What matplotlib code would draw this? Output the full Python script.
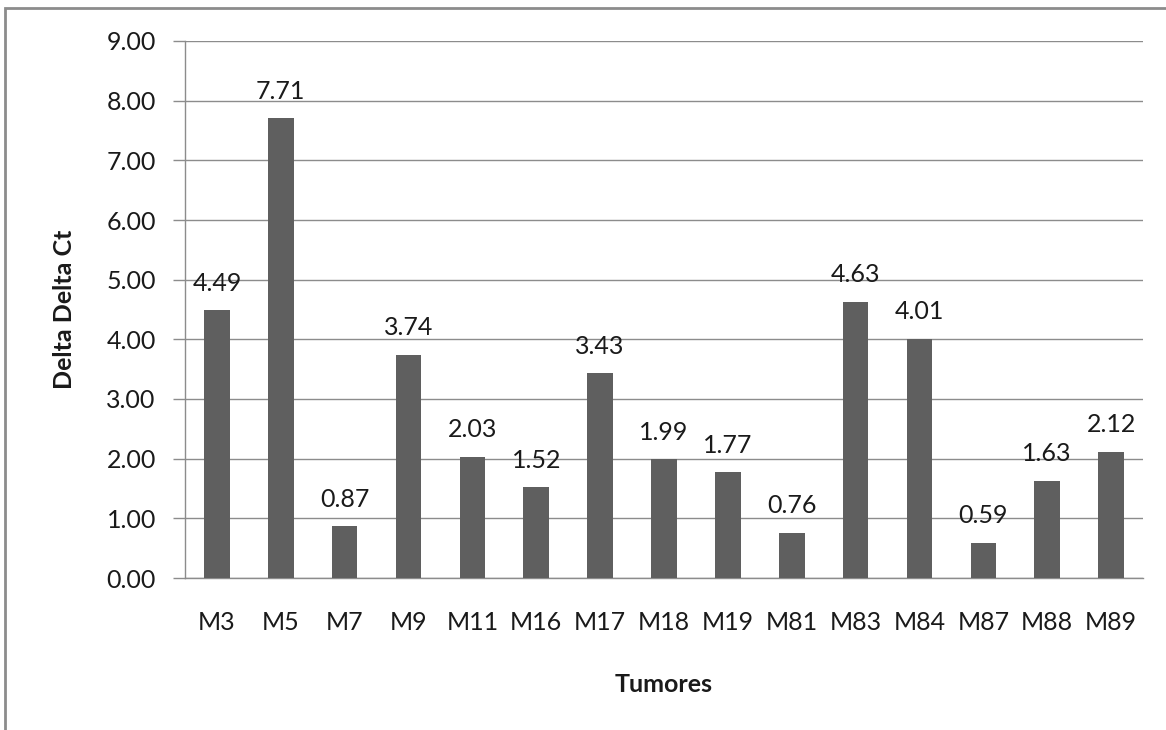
import matplotlib
matplotlib.use("Agg")
import matplotlib.pyplot as plt
from matplotlib.patches import Rectangle

categories = ["M3", "M5", "M7", "M9", "M11", "M16", "M17", "M18", "M19",
              "M81", "M83", "M84", "M87", "M88", "M89"]
values = [4.49, 7.71, 0.87, 3.74, 2.03, 1.52, 3.43, 1.99, 1.77,
          0.76, 4.63, 4.01, 0.59, 1.63, 2.12]
yticks = [0, 1, 2, 3, 4, 5, 6, 7, 8, 9]

plt.rcParams['font.family'] = ['Lato', 'DejaVu Sans']

W, H = 1166, 730
fig = plt.figure(figsize=(W / 100, H / 100), dpi=100)
ax = fig.add_axes([185 / W, 1 - 578 / H, (1143 - 185) / W, (578 - 41) / H])

# chart-area frame (left and top edges visible)
fig.patches.append(Rectangle((5 / W, -0.1), 1.2, 1 - 8 / H + 0.1,
                             transform=fig.transFigure, fill=False,
                             edgecolor="#8c8c8c", linewidth=2))

FS = 18
TXT = "#1a1a1a"

x = range(len(categories))
ax.bar(x, values, width=0.4, color="#5f5f5f", zorder=3)
for xi, v in zip(x, values):
    ax.annotate(f"{v:.2f}", (xi, v), xytext=(0, 14), textcoords="offset points",
                ha="center", va="baseline", fontsize=FS, color=TXT, zorder=4)

ax.set_xlim(-0.5, len(categories) - 0.5)
ax.set_ylim(0, 9)
ax.set_yticks(yticks)
ax.set_yticklabels([f"{t:.2f}" for t in yticks], fontsize=FS, color=TXT)
ax.set_xticks(list(x))
ax.set_xticklabels(categories, fontsize=FS, color=TXT)
ax.tick_params(axis="x", length=0, pad=24)
ax.tick_params(axis="y", length=9, width=1, color="#8c8c8c", pad=12)

ax.grid(axis="y", color="#8c8c8c", linewidth=1, zorder=0)
for s in ["top", "right"]:
    ax.spines[s].set_visible(False)
for s in ["left", "bottom"]:
    ax.spines[s].set_color("#8c8c8c")
    ax.spines[s].set_linewidth(1)

ax.set_ylabel("Delta Delta Ct", fontsize=FS, fontweight="bold",
              color=TXT, labelpad=22)
ax.set_xlabel("Tumores", fontsize=FS, fontweight="bold", color=TXT,
              labelpad=28)

fig.savefig("out.png", dpi=100)
